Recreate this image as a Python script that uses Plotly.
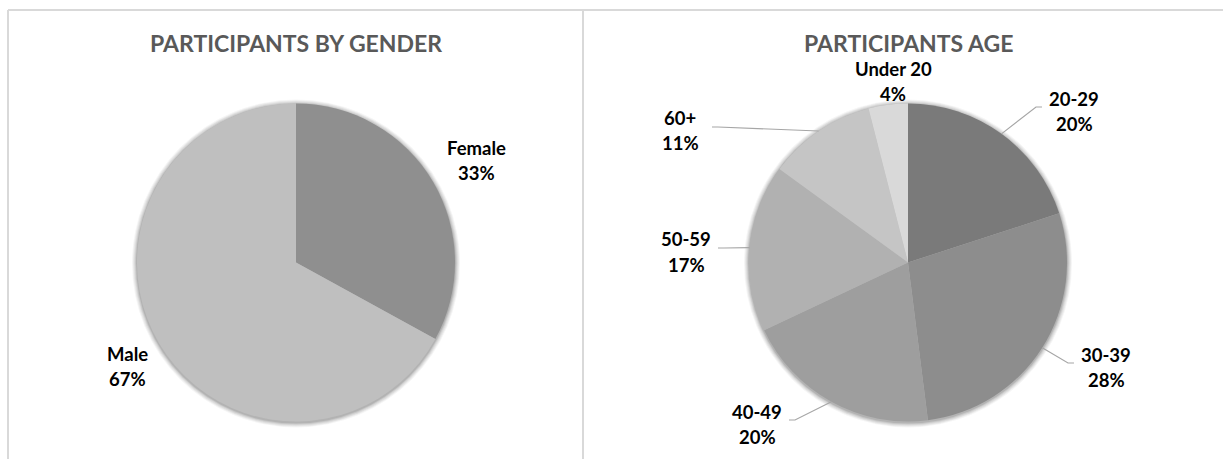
import math
import plotly.graph_objects as go

# ---- data ----
gender_labels = ["Female", "Male"]
gender_values = [33, 67]

age_labels = ["20-29", "30-39", "40-49", "50-59", "60+", "Under 20"]
age_values = [20, 28, 20, 17, 11, 4]

# ---- styling ----
W, H = 1223, 459
gender_colors = ["#8f8f8f", "#bfbfbf"]
age_colors = ["#7a7a7a", "#8d8d8d", "#9e9e9e", "#b1b1b1", "#c5c5c5", "#d9d9d9"]
TITLE_COLOR = "#595959"
BORDER = "#d9d9d9"
LEADER = "#a6a6a6"
LABEL_FONT = dict(family="Lato, Carlito, sans-serif", size=18.5, color="#000000")

# pie geometry in pixels (centre x, centre y, radius)
GENDER_PIE = (296, 262.5, 159)
AGE_PIE = (908, 262.5, 159)

# label block centres (px) and whether a leader line is drawn
gender_label_pos = [(476, 160), (127, 366)]
age_label_pos = [(1074, 111), (1106, 367), (757, 424), (686, 252), (680, 131), (893, 81)]
age_leader = [True, True, True, True, True, False]


def px(x, y):
    return x / W, 1 - y / H


def domain(cx, cy, r):
    x0, y1 = px(cx - r, cy - r)
    x1, y0 = px(cx + r, cy + r)
    return dict(x=[x0, x1], y=[y0, y1])


def mid_angles(values):
    total = sum(values)
    out, acc = [], 0
    for v in values:
        out.append((acc + v / 2) / total * 360)
        acc += v
    return out


def edge_point(pie, ang):
    cx, cy, r = pie
    a = math.radians(ang)
    return cx + r * math.sin(a), cy - r * math.cos(a)


fig = go.Figure()


def add_shadow(pie):
    cx, cy, r = pie
    for k, op in [(5, 0.04), (4, 0.05), (3, 0.06), (2, 0.08), (1, 0.1)]:
        fig.add_trace(go.Pie(
            values=[1], marker=dict(colors=["rgba(0,0,0,%s)" % op], line=dict(width=0)),
            textinfo="none", hoverinfo="skip", showlegend=False, sort=False,
            domain=domain(cx, cy + 1, r + k),
        ))


add_shadow(GENDER_PIE)
add_shadow(AGE_PIE)

fig.add_trace(go.Pie(
    labels=gender_labels, values=gender_values, sort=False, direction="clockwise",
    rotation=0, marker=dict(colors=gender_colors, line=dict(width=0)),
    textinfo="none", hoverinfo="label+percent", showlegend=False,
    domain=domain(*GENDER_PIE),
))
fig.add_trace(go.Pie(
    labels=age_labels, values=age_values, sort=False, direction="clockwise",
    rotation=0, marker=dict(colors=age_colors, line=dict(width=0)),
    textinfo="none", hoverinfo="label+percent", showlegend=False,
    domain=domain(*AGE_PIE),
))

annotations = []
shapes = []


def add_label(name, value, pos):
    x, y = pos
    for txt, dy in [(name, -12.5), ("%d%%" % value, 12.5)]:
        ax, ay = px(x, y + dy)
        annotations.append(dict(
            x=ax, y=ay, xref="paper", yref="paper", text="<b>%s</b>" % txt,
            showarrow=False, font=LABEL_FONT, xanchor="center", yanchor="middle",
            borderpad=0,
        ))


for name, v, pos in zip(gender_labels, gender_values, gender_label_pos):
    add_label(name, v, pos)

for name, v, pos, ang, lead in zip(age_labels, age_values, age_label_pos,
                                   mid_angles(age_values), age_leader):
    add_label(name, v, pos)
    if lead:
        ex, ey = edge_point(AGE_PIE, ang)
        lx, ly = pos
        # leader ends beside the first text line, on the side facing the pie
        side = -1 if lx > ex else 1
        jx = lx + side * 32
        jy = ly - 4
        kx = jx + side * 6
        x0, y0 = px(ex, ey)
        x1, y1 = px(kx, jy)
        x2, y2 = px(jx, jy)
        shapes.append(dict(type="path", xref="paper", yref="paper",
                           path="M %f %f L %f %f L %f %f" % (x0, y0, x1, y1, x2, y2),
                           line=dict(color=LEADER, width=1.2)))

# chart titles
for title, cx in [("PARTICIPANTS BY GENDER", GENDER_PIE[0]), ("PARTICIPANTS AGE", AGE_PIE[0])]:
    tx, ty = px(cx, 43)
    annotations.append(dict(
        x=tx, y=ty, xref="paper", yref="paper", text="<b>%s</b>" % title,
        showarrow=False, xanchor="center", yanchor="middle", borderpad=0,
        font=dict(family="Lato, Carlito, sans-serif", size=23, color=TITLE_COLOR),
    ))

# panel frames
for (x0, y0, x1, y1) in [(8, 10, W, 10), (8, 10, 8, H), (583, 10, 583, H)]:
    a0, b0 = px(x0, y0)
    a1, b1 = px(x1, y1)
    shapes.append(dict(type="line", xref="paper", yref="paper", x0=a0, y0=b0, x1=a1, y1=b1,
                       line=dict(color=BORDER, width=2)))

fig.update_layout(
    width=W, height=H, margin=dict(l=0, r=0, t=0, b=0),
    paper_bgcolor="white", plot_bgcolor="white",
    annotations=annotations, shapes=shapes, showlegend=False,
)

fig.write_html("out.html", config=dict(displayModeBar=False))
